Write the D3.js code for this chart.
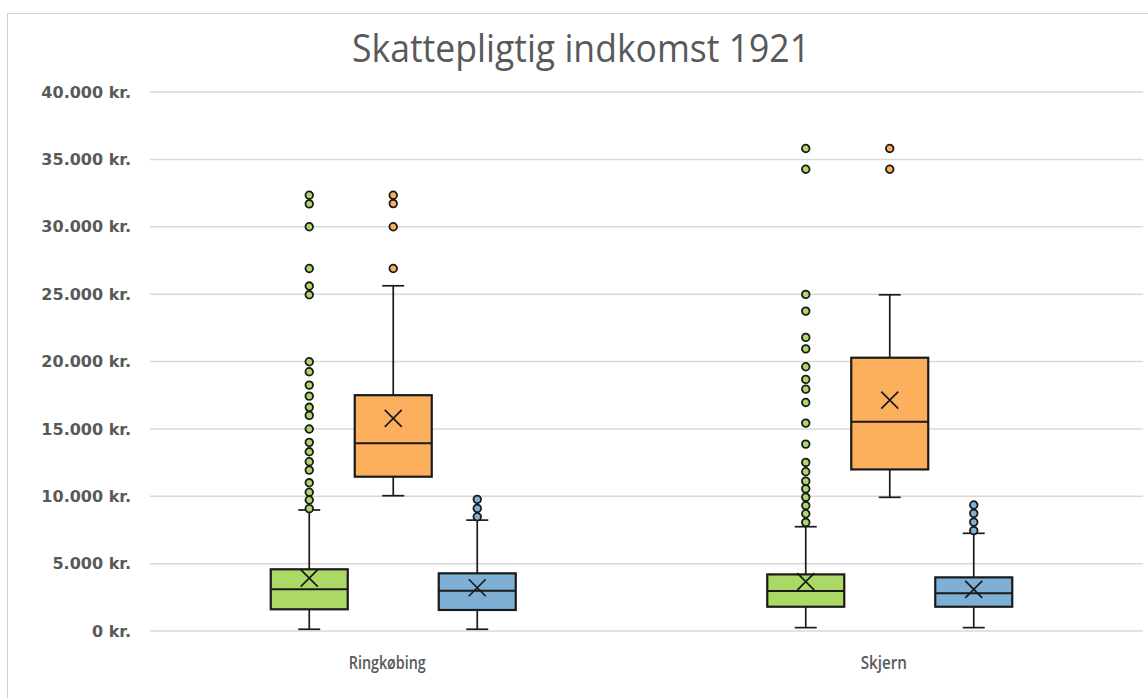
<!DOCTYPE html>
<html>
<head>
<meta charset="utf-8">
<script src="https://cdn.jsdelivr.net/npm/d3@7"></script>
<style>
  html, body { margin: 0; padding: 0; background: #fff; }
  svg { display: block; }
</style>
</head>
<body>
<svg id="chart" width="1148" height="698"></svg>
<script>
// ---------- DATA ----------
const title = "Skattepligtig indkomst 1921";
const categories = ["Ringkøbing", "Skjern"];
const seriesNames = ["Serie 1", "Serie 2", "Serie 3"];
const seriesColors = ["#acd865", "#fcb05e", "#7eb0d5"];
const yTicks = [0, 5000, 10000, 15000, 20000, 25000, 30000, 35000, 40000];

// per series: values for [Ringkøbing, Skjern]
const s1Min    = [130, 250];
const s1Q1     = [1610, 1800];
const s1Median = [3090, 2970];
const s1Q3     = [4580, 4200];
const s1Max    = [8980, 7740];
const s1Mean   = [3930, 3660];
const s1Outliers = [
  [32340, 31700, 30000, 26900, 25600, 24950, 19980, 19240, 18250, 17430, 16600, 16000, 14990, 14000, 13300, 12560, 11940, 11000, 10300, 9720, 9080],
  [35810, 34270, 24980, 23740, 21790, 20940, 19610, 18670, 17950, 16960, 15430, 13870, 12510, 11820, 11120, 10550, 9930, 9310, 8700, 8060]
];

const s2Min    = [10040, 9920];
const s2Q1     = [11450, 11990];
const s2Median = [13930, 15530];
const s2Q3     = [17500, 20280];
const s2Max    = [25620, 24950];
const s2Mean   = [15780, 17140];
const s2Outliers = [
  [32340, 31720, 30000, 26900],
  [35810, 34270]
];

const s3Min    = [130, 250];
const s3Q1     = [1560, 1800];
const s3Median = [2990, 2800];
const s3Q3     = [4280, 3980];
const s3Max    = [8230, 7250];
const s3Mean   = [3210, 3090];
const s3Outliers = [
  [9770, 9100, 8480],
  [9350, 8730, 8080, 7450]
];

// ---------- BUILD TABLE ----------
const stats = [
  {min: s1Min, q1: s1Q1, med: s1Median, q3: s1Q3, max: s1Max, mean: s1Mean, out: s1Outliers},
  {min: s2Min, q1: s2Q1, med: s2Median, q3: s2Q3, max: s2Max, mean: s2Mean, out: s2Outliers},
  {min: s3Min, q1: s3Q1, med: s3Median, q3: s3Q3, max: s3Max, mean: s3Mean, out: s3Outliers}
];
const boxes = [];
categories.forEach((c, ci) => {
  seriesNames.forEach((s, si) => {
    const st = stats[si];
    boxes.push({cat: c, series: s, si, color: seriesColors[si],
      min: st.min[ci], q1: st.q1[ci], med: st.med[ci], q3: st.q3[ci],
      max: st.max[ci], mean: st.mean[ci], out: st.out[ci]});
  });
});

// ---------- LAYOUT ----------
const svg = d3.select("#chart");
const W = 1148, H = 698;
const plotLeft = 150, plotRight = 1143, plotTop = 92, plotBottom = 631;

// outer border
svg.append("rect")
  .attr("x", 7.5).attr("y", 13.5)
  .attr("width", W + 20).attr("height", H + 20)
  .attr("fill", "#fff").attr("stroke", "#d0d0d0").attr("stroke-width", 1);

const y = d3.scaleLinear().domain([0, 40000]).range([plotBottom, plotTop]);
const x = d3.scaleBand().domain(categories).range([plotLeft - 5, plotRight - 5]).padding(0);
const xs = d3.scaleBand().domain(seriesNames).range([-126, 126])
  .paddingInner(0.0833).paddingOuter(0.0417);

const locale = d3.formatLocale({decimal: ",", thousands: ".", grouping: [3], currency: ["", " kr."]});
const fmt = locale.format("$,");

// gridlines
svg.append("g").selectAll("line").data(yTicks).join("line")
  .attr("x1", plotLeft).attr("x2", plotRight)
  .attr("y1", d => y(d)).attr("y2", d => y(d))
  .attr("stroke", "#d9d9d9").attr("stroke-width", 1.5);

// y-axis labels via d3 axis
const yAxis = d3.axisLeft(y).tickValues(yTicks).tickFormat(fmt).tickSize(0).tickPadding(0);
const gy = svg.append("g").attr("transform", `translate(131,0)`).call(yAxis);
gy.select(".domain").remove();
gy.selectAll("text")
  .attr("fill", "#595959")
  .style("font-family", "'DejaVu Sans', sans-serif")
  .style("font-weight", "bold")
  .style("font-size", "16px");

// category labels
svg.append("g").selectAll("text").data(categories).join("text")
  .attr("x", d => x(d) + x.bandwidth() / 2 - 6)
  .attr("y", 669)
  .attr("text-anchor", "middle")
  .attr("fill", "#595959")
  .style("font-family", "'Open Sans', sans-serif")
  .style("font-weight", "600")
  .style("font-size", "18px")
  .attr("textLength", d => d.length * 7.7)
  .attr("lengthAdjust", "spacingAndGlyphs")
  .text(d => d);

// title
svg.append("text")
  .attr("x", 581).attr("y", 62)
  .attr("text-anchor", "middle")
  .attr("fill", "#595959")
  .style("font-family", "'Open Sans', sans-serif")
  .style("font-size", "38px")
  .attr("textLength", 458)
  .attr("lengthAdjust", "spacingAndGlyphs")
  .text(title);

// boxes
const g = svg.append("g");
const bw = xs.bandwidth();
const capW = 22;
const stroke = "#1a1a1a";

const bg = g.selectAll("g.box").data(boxes).join("g")
  .attr("class", "box")
  .attr("transform", d => `translate(${x(d.cat) + x.bandwidth() / 2 + xs(d.series) + bw / 2},0)`);

// whiskers
bg.append("line").attr("x1", 0).attr("x2", 0)
  .attr("y1", d => y(d.q3)).attr("y2", d => y(d.max))
  .attr("stroke", stroke).attr("stroke-width", 1.7);
bg.append("line").attr("x1", 0).attr("x2", 0)
  .attr("y1", d => y(d.q1)).attr("y2", d => y(d.min))
  .attr("stroke", stroke).attr("stroke-width", 1.7);
bg.append("line").attr("x1", -capW / 2).attr("x2", capW / 2)
  .attr("y1", d => y(d.max)).attr("y2", d => y(d.max))
  .attr("stroke", stroke).attr("stroke-width", 1.7);
bg.append("line").attr("x1", -capW / 2).attr("x2", capW / 2)
  .attr("y1", d => y(d.min)).attr("y2", d => y(d.min))
  .attr("stroke", stroke).attr("stroke-width", 1.7);

// box
bg.append("rect")
  .attr("x", -bw / 2).attr("width", bw)
  .attr("y", d => y(d.q3)).attr("height", d => y(d.q1) - y(d.q3))
  .attr("fill", d => d.color).attr("stroke", stroke).attr("stroke-width", 2.2);
// median
bg.append("line").attr("x1", -bw / 2).attr("x2", bw / 2)
  .attr("y1", d => y(d.med)).attr("y2", d => y(d.med))
  .attr("stroke", stroke).attr("stroke-width", 2);
// mean X
const m = 8.5;
bg.append("path")
  .attr("d", d => { const yy = y(d.mean); return `M${-m},${yy - m}L${m},${yy + m}M${-m},${yy + m}L${m},${yy - m}`; })
  .attr("stroke", stroke).attr("stroke-width", 1.7).attr("fill", "none");

// outliers
bg.selectAll("circle").data(d => d.out.map(v => ({v, color: d.color}))).join("circle")
  .attr("cx", 0).attr("cy", d => y(d.v)).attr("r", 3.8)
  .attr("fill", d => d.color).attr("stroke", stroke).attr("stroke-width", 1.8);
</script>
</body>
</html>
